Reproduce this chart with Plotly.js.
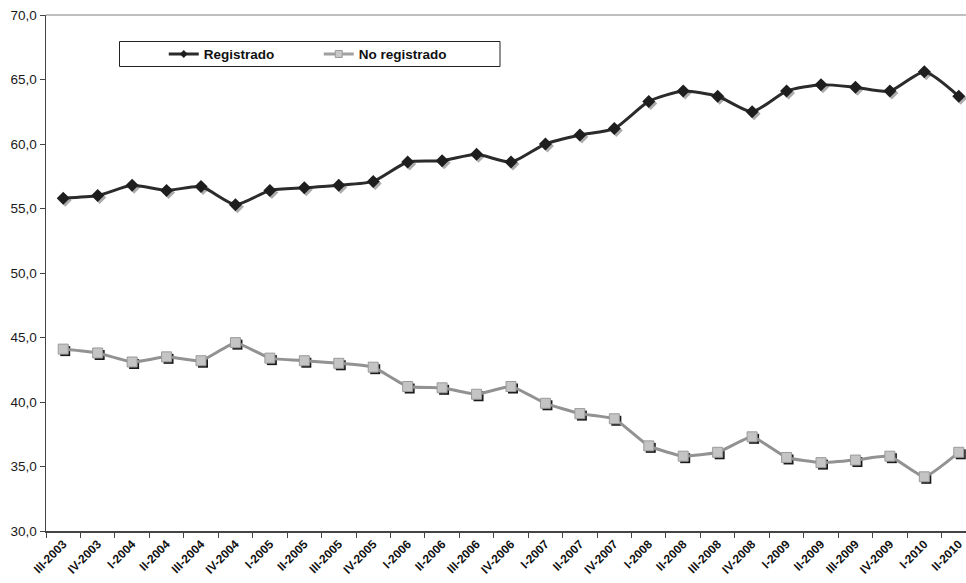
<!DOCTYPE html>
<html>
<head>
<meta charset="utf-8">
<script src="https://cdn.plot.ly/plotly-3.0.1.min.js"></script>
<style>
html,body{margin:0;padding:0;background:#fff;overflow:hidden;}
#chart{width:966px;height:583px;}
</style>
</head>
<body>
<div id="chart"></div>
<script>
const categories = ["III-2003","IV-2003","I-2004","II-2004","III-2004","IV-2004","I-2005","II-2005","III-2005","IV-2005","I-2006","II-2006","III-2006","IV-2006","I-2007","II-2007","IV-2007","I-2008","II-2008","III-2008","IV-2008","I-2009","II-2009","III-2009","IV-2009","I-2010","II-2010"];
const registrado = [55.8,56.0,56.8,56.4,56.7,55.3,56.4,56.6,56.8,57.1,58.6,58.7,59.2,58.6,60.0,60.7,61.2,63.3,64.1,63.7,62.5,64.1,64.6,64.4,64.1,65.6,63.7];
const noRegistrado = [44.1,43.8,43.1,43.5,43.2,44.6,43.4,43.2,43.0,42.7,41.2,41.1,40.6,41.2,39.9,39.1,38.7,36.6,35.8,36.1,37.3,35.7,35.3,35.5,35.8,34.2,36.1];
const seriesNames = ["Registrado","No registrado"];

const xRange = [-0.5, 26.21];
const yRange = [30, 70];
// shadow axes shifted ~2px right / 2px down
const pxPerCat = 920/(xRange[1]-xRange[0]);
const pxPerUnit = 516/(yRange[1]-yRange[0]);
const dx = 2/pxPerCat, dy = 2/pxPerUnit;

const traces = [
  {x: [categories[0]], y: [null], name: seriesNames[0], mode:'lines+markers', hoverinfo:'skip',
   line:{color:'#2b2b2b', width:3}, marker:{symbol:'diamond', size:6, color:'#1e1e1e'}},
  {x: [categories[0]], y: [null], name: seriesNames[1], mode:'lines+markers', hoverinfo:'skip',
   line:{color:'#a0a0a0', width:3}, marker:{symbol:'square', size:7, color:'#c8c8c8', line:{color:'#9a9a9a', width:1}}},
  {x: categories, y: registrado, xaxis:'x2', yaxis:'y2', mode:'markers', showlegend:false, hoverinfo:'skip',
   marker:{symbol:'diamond', size:10, color:'rgba(70,70,70,0.45)'}},
  {x: categories, y: noRegistrado, xaxis:'x2', yaxis:'y2', mode:'markers', showlegend:false, hoverinfo:'skip',
   marker:{symbol:'square', size:10, color:'#1a1a1a'}},
  {x: categories, y: registrado, xaxis:'x3', yaxis:'y3', name: seriesNames[0], mode:'lines+markers', showlegend:false,
   line:{color:'#2b2b2b', width:3, shape:'spline', smoothing:0.6},
   marker:{symbol:'diamond', size:10, color:'#1e1e1e'}},
  {x: categories, y: noRegistrado, xaxis:'x3', yaxis:'y3', name: seriesNames[1], mode:'lines+markers', showlegend:false,
   line:{color:'#929292', width:3, shape:'spline', smoothing:0.4},
   marker:{symbol:'square', size:10, color:'#c4c4c4', line:{color:'#9a9a9a', width:1}}}
];

const layout = {
  width:966, height:583,
  margin:{l:46, r:0, t:15, b:52},
  paper_bgcolor:'#fff', plot_bgcolor:'#fff',
  font:{family:'"Liberation Sans", Arial, sans-serif', color:'#1a1a1a'},
  showlegend:true,
  legend:{orientation:'h', x:0.128, xanchor:'left', y:0.924, yanchor:'middle',
          bgcolor:'rgba(0,0,0,0)', borderwidth:0, entrywidth:110, entrywidthmode:'pixels',
          font:{size:13.5, weight:'bold', color:'#111'}},
  xaxis:{type:'category', categoryorder:'array', categoryarray:categories, range:xRange,
         tickangle:-45, tickson:'boundaries', ticks:'outside', ticklen:5, tickcolor:'#444',
         showline:true, linecolor:'#444', linewidth:1.5, showgrid:false, zeroline:false,
         tickfont:{family:'"Liberation Sans", Arial, sans-serif', size:12, weight:'bold', color:'#111'}, fixedrange:true},
  yaxis:{range:yRange, dtick:5, tick0:30, tickformat:'.1f', ticks:'outside', ticklen:5, tickcolor:'#444',
         showline:true, linecolor:'#444', linewidth:1.5, showgrid:false, zeroline:false,
         tickfont:{size:13.5, color:'#1a1a1a'}, fixedrange:true},
  xaxis2:{type:'category', categoryorder:'array', categoryarray:categories, range:[xRange[0]-dx, xRange[1]-dx], overlaying:'x', visible:false, fixedrange:true},
  yaxis2:{range:[yRange[0]+dy, yRange[1]+dy], overlaying:'y', visible:false, fixedrange:true},
  xaxis3:{type:'category', categoryorder:'array', categoryarray:categories, range:xRange, overlaying:'x', visible:false, fixedrange:true},
  yaxis3:{range:yRange, overlaying:'y', visible:false, fixedrange:true},
  separators:',.',
  shapes:[
    {type:'line', xref:'paper', yref:'paper', x0:0, x1:1, y0:1, y1:1, line:{color:'#808080', width:1}},
    {type:'rect', xref:'paper', yref:'paper', x0:(119.5-46)/920, x1:(500-46)/920, y0:(531-66.5)/516, y1:(531-41.5)/516,
     line:{color:'#222', width:1}, fillcolor:'rgba(0,0,0,0)'}
  ]
};

Plotly.newPlot('chart', traces, layout, {displayModeBar:false, staticPlot:true});
</script>
</body>
</html>
